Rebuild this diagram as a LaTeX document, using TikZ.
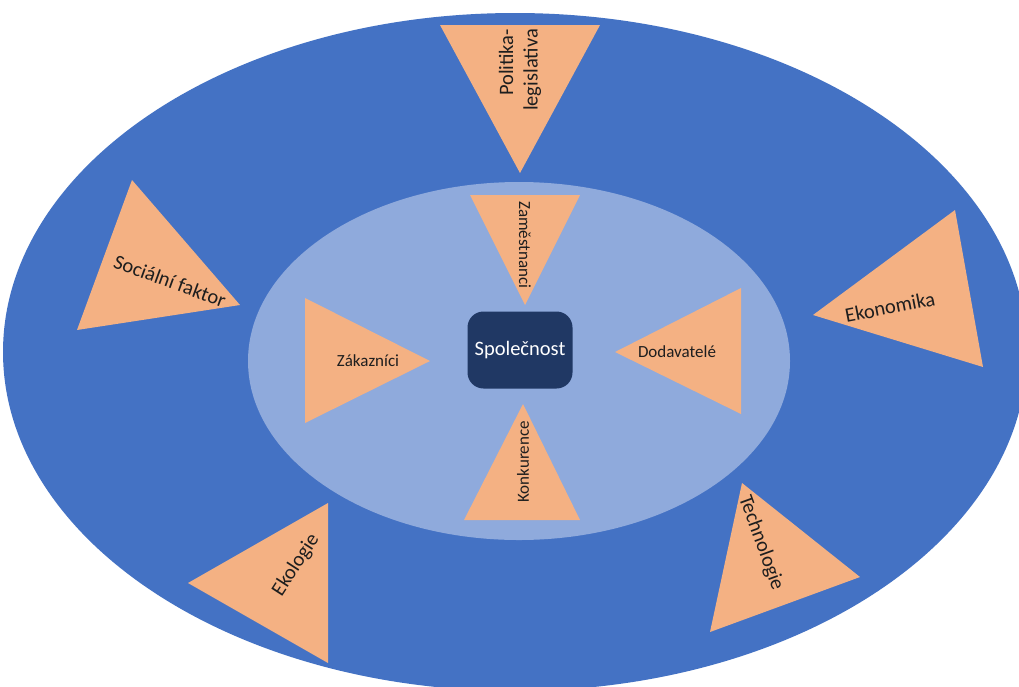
\documentclass[tikz,border=0pt]{standalone}
\usepackage{fontspec}
\setmainfont{Carlito}
\definecolor{outerblue}{HTML}{4472C4}
\definecolor{innerblue}{HTML}{8FAADC}
\definecolor{wedge}{HTML}{F4B183}
\definecolor{core}{HTML}{203864}
\definecolor{ink}{HTML}{1E1E1E}
\begin{document}
\begin{tikzpicture}[x=1pt,y=-1pt,
  wedgefill/.style={fill=wedge},
  outerlabel/.style={font=\fontsize{20.5}{24.5}\selectfont,text=ink,inner sep=0pt},
  innerlabel/.style={font=\fontsize{17}{20}\selectfont,text=ink,inner sep=0pt},
  corebox/.style={fill=core,rounded corners=16pt,minimum width=105pt,minimum height=77pt,
    text=white,font=\fontsize{20.5}{24.5}\selectfont,inner sep=0pt}]
\useasboundingbox (0,0) rectangle (1019,686);
\fill[white] (0,0) rectangle (1019,686);

% rings
\fill[outerblue] (515,352) ellipse [x radius=512, y radius=339];
\fill[innerblue] (519,361) ellipse [x radius=271, y radius=179];

% outer wedges
\fill[wedgefill] (440,25) -- (600,25) -- (520,173) -- cycle;
\fill[wedgefill] (132,180) -- (77,330) -- (240,305) -- cycle;
\fill[wedgefill] (955,210) -- (813,315) -- (983,367) -- cycle;
\fill[wedgefill] (328,503) -- (188,583) -- (328,663) -- cycle;
\fill[wedgefill] (742,483) -- (710,632) -- (860,577) -- cycle;

% inner wedges
\fill[wedgefill] (470,195) -- (580,195) -- (525,305) -- cycle;
\fill[wedgefill] (305,298) -- (305,423) -- (430,361) -- cycle;
\fill[wedgefill] (741,288) -- (741,414) -- (615,352) -- cycle;
\fill[wedgefill] (523,404) -- (464,520) -- (580,520) -- cycle;

% centre
\node[corebox] (firm) at (520,350) {Společnost};

% outer labels
\node[outerlabel,rotate=90,align=right] (pol) at (520,70) {Politika-\\legislativa};
\node[outerlabel,rotate=-20] (soc) at (170,281) {Sociální faktor};
\node[outerlabel,rotate=11] (eko) at (890,307) {Ekonomika};
\node[outerlabel,rotate=57] (ekl) at (296,565) {Ekologie};
\node[outerlabel,rotate=-70] (tech) at (761,543) {Technologie};

% inner labels
\node[innerlabel,rotate=-90] (zam) at (525,245) {Zaměstnanci};
\node[innerlabel] (zak) at (368,361) {Zákazníci};
\node[innerlabel] (dod) at (677,352) {Dodavatelé};
\node[innerlabel,rotate=90] (kon) at (523,462) {Konkurence};
\end{tikzpicture}
\end{document}
